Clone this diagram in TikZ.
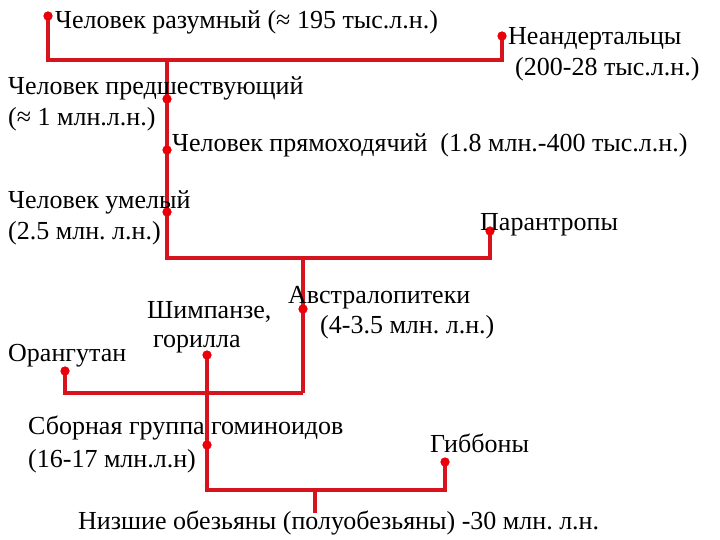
\documentclass[tikz,border=0pt]{standalone}
\usepackage{fontspec}
\setmainfont{Liberation Serif}
\frenchspacing
\definecolor{lnred}{RGB}{215,20,30}
\definecolor{dotred}{RGB}{235,0,10}
\begin{document}
\begin{tikzpicture}[x=1pt,y=-1pt,
  lbl/.style={anchor=base west,inner sep=0pt,font=\fontsize{26}{30}\selectfont\frenchspacing},
  dot/.style={circle,fill=dotred,inner sep=0pt,minimum size=9pt},
  link/.style={draw=lnred,line width=3.5pt,line join=miter}]
\useasboundingbox (0,0) rectangle (720,540);
% dots
\node[dot] (sap) at (48,16) {};
\node[dot] (nea) at (502,36) {};
\node[dot] (pred) at (167,99) {};
\node[dot] (erect) at (167,150) {};
\node[dot] (hab) at (167,212) {};
\node[dot] (par) at (490,231) {};
\node[dot] (aus) at (303,309) {};
\node[dot] (chimp) at (207,355) {};
\node[dot] (orang) at (65,371) {};
\node[dot] (sborn) at (207,445) {};
\node[dot] (gib) at (445,462) {};
% junctions
\coordinate (jtop) at (167,60);
\coordinate (jmid) at (303,258);
\coordinate (jlow) at (207,393);
\coordinate (jbot) at (315,490);
\coordinate (root) at (315,513);
% connectors
\draw[link] (sap.center) |- (jtop) -| (nea.center);
\draw[link] (jtop) -- (pred.center) -- (erect.center) -- (hab.center) |- (jmid) -| (par.center);
\draw[link] (jmid) -- (aus.center) -- (jmid |- jlow);
\draw[link] (orang.center) |- (jmid |- jlow);
\draw[link] (chimp.center) -- (jlow) -- (sborn.center) |- (jbot) -| (gib.center);
\draw[link] (jbot) -- (root);
% redraw dots on top
\foreach \d in {sap,nea,pred,erect,hab,par,aus,chimp,orang,sborn,gib}
  \fill[dotred] (\d.center) circle (4.5pt);
% labels
\node[lbl] (tsap) at (55,29) {Человек разумный (≈ 195 тыс.л.н.)};
\node[lbl] (tnea1) at (508,45) {Неандертальцы};
\node[lbl] (tnea2) at (515,76) {(200-28 тыс.л.н.)};
\node[lbl] (tpred1) at (8,95) {Человек предшествующий};
\node[lbl] (tpred2) at (8,126) {(≈ 1 млн.л.н.)};
\node[lbl] (terect) at (172,152) {Человек прямоходячий\ \ (1.8 млн.-400 тыс.л.н.)};
\node[lbl] (thab1) at (8,208) {Человек умелый};
\node[lbl] (thab2) at (8,240) {(2.5 млн. л.н.)};
\node[lbl] (tpar) at (480,230) {Парантропы};
\node[lbl] (taus1) at (288,303) {Австралопитеки};
\node[lbl] (taus2) at (320,333) {(4-3.5 млн. л.н.)};
\node[lbl] (tchimp1) at (147,318) {Шимпанзе,};
\node[lbl] (tchimp2) at (153,347) {горилла};
\node[lbl] (torang) at (8,361) {Орангутан};
\node[lbl] (tsborn1) at (28,434) {Сборная группа гоминоидов};
\node[lbl] (tsborn2) at (28,467) {(16-17 млн.л.н)};
\node[lbl] (tgib) at (430,452) {Гиббоны};
\node[lbl] (troot) at (78,529) {Низшие обезьяны (полуобезьяны) -30 млн. л.н.};
\end{tikzpicture}
\end{document}
